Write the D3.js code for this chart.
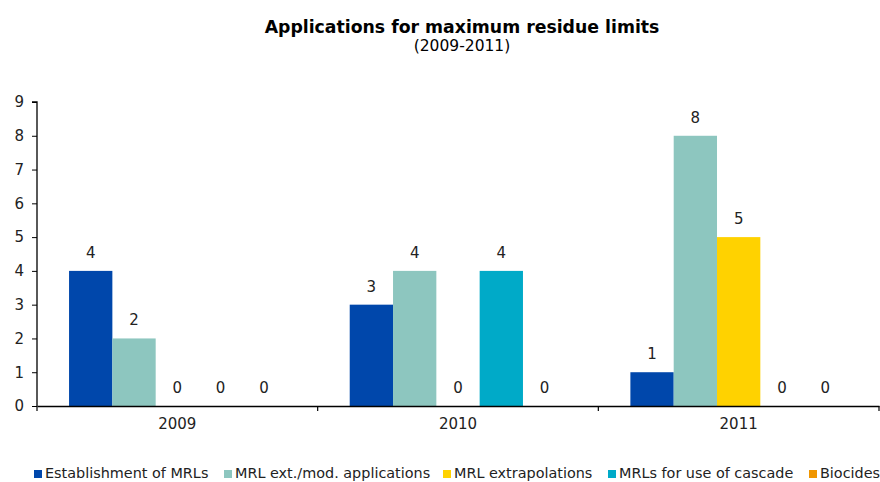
<!DOCTYPE html>
<html><head><meta charset="utf-8">
<script src="https://cdn.jsdelivr.net/npm/d3@7"></script>
<style>body{margin:0;background:#fff}svg{display:block;font-family:"DejaVu Sans",Verdana,sans-serif}</style>
</head><body><div id="chart"></div>
<script>
const years = ["2009", "2010", "2011"];
const seriesNames = ["Establishment of MRLs", "MRL ext./mod. applications", "MRL extrapolations", "MRLs for use of cascade", "Biocides"];
const seriesColors = ["#0047ab", "#8dc6bf", "#ffd200", "#00aac8", "#f09600"];
const establishment = [4, 3, 1];
const extMod = [2, 4, 8];
const extrapolations = [0, 0, 5];
const cascade = [0, 4, 0];
const biocides = [0, 0, 0];
const yTicks = [0,1,2,3,4,5,6,7,8,9];

const allSeries = [establishment, extMod, extrapolations, cascade, biocides];
const W = 880, H = 482;
const m = {left: 37, right: 879, top: 102, bottom: 406};
const svg = d3.select("#chart").append("svg").attr("width", W).attr("height", H);

const x0 = d3.scaleBand().domain(years).range([m.left, m.right]).paddingInner(0).paddingOuter(0);
const x1 = d3.scaleBand().domain(seriesNames).range([0, x0.bandwidth()]).paddingInner(0).paddingOuter(0.74);
const y = d3.scaleLinear().domain([0, 9]).range([m.bottom, m.top]);

svg.append("text").attr("x", 462).attr("y", 33).attr("text-anchor", "middle")
  .attr("font-weight", "bold").attr("font-size", 17.3).text("Applications for maximum residue limits");
svg.append("text").attr("x", 462).attr("y", 51).attr("text-anchor", "middle")
  .attr("font-size", 15.5).text("(2009-2011)");

const data = [];
years.forEach((yr, i) => seriesNames.forEach((s, j) => data.push({yr, s, j, v: allSeries[j][i]})));

svg.append("g").selectAll("rect").data(data.filter(d => d.v > 0)).join("rect")
  .attr("x", d => x0(d.yr) + x1(d.s)).attr("width", x1.bandwidth())
  .attr("y", d => y(d.v)).attr("height", d => y(0) - y(d.v))
  .attr("fill", d => seriesColors[d.j]);

svg.append("g").selectAll("text").data(data).join("text")
  .attr("x", d => x0(d.yr) + x1(d.s) + x1.bandwidth()/2)
  .attr("y", d => y(d.v) - 13)
  .attr("text-anchor", "middle").attr("font-size", 15).attr("fill", "#222").text(d => d.v);

// y axis
const ya = svg.append("g").attr("transform", `translate(${m.left},0)`)
  .call(d3.axisLeft(y).tickValues(yTicks).tickSize(5).tickPadding(8).tickFormat(d3.format("d")));
ya.select(".domain").attr("stroke", "#000").attr("stroke-width", 1.3).attr("d", `M-5,${y(9)}H0V${y(0)}`);
ya.selectAll("text").attr("font-size", 15).attr("fill", "#222").attr("font-family", "DejaVu Sans, Verdana, sans-serif");

// x axis
const xa = svg.append("g").attr("transform", `translate(0,${m.bottom})`)
  .call(d3.axisBottom(x0).tickSize(0).tickPadding(12));
xa.select(".domain").attr("stroke", "#000").attr("stroke-width", 1.5);
xa.selectAll("text").attr("font-size", 15).attr("fill", "#222").attr("font-family", "DejaVu Sans, Verdana, sans-serif");
const bounds = [m.left, ...years.map(yy => x0(yy) + x0.bandwidth())];
xa.selectAll(".bnd").data(bounds).join("line").attr("class", "bnd")
  .attr("x1", d => d).attr("x2", d => d).attr("y1", 0).attr("y2", 5).attr("stroke", "#000").attr("stroke-width", 1.2);

// legend
const legX = [34, 224, 443, 608, 809];
const lg = svg.append("g").selectAll("g").data(seriesNames).join("g")
  .attr("transform", (d, i) => `translate(${legX[i]},0)`);
lg.append("rect").attr("x", 0).attr("y", 470).attr("width", 8).attr("height", 8).attr("fill", (d, i) => seriesColors[i]);
lg.append("text").attr("x", 11).attr("y", 478).attr("font-size", 14.4).attr("fill", "#222").text(d => d);
</script></body></html>
